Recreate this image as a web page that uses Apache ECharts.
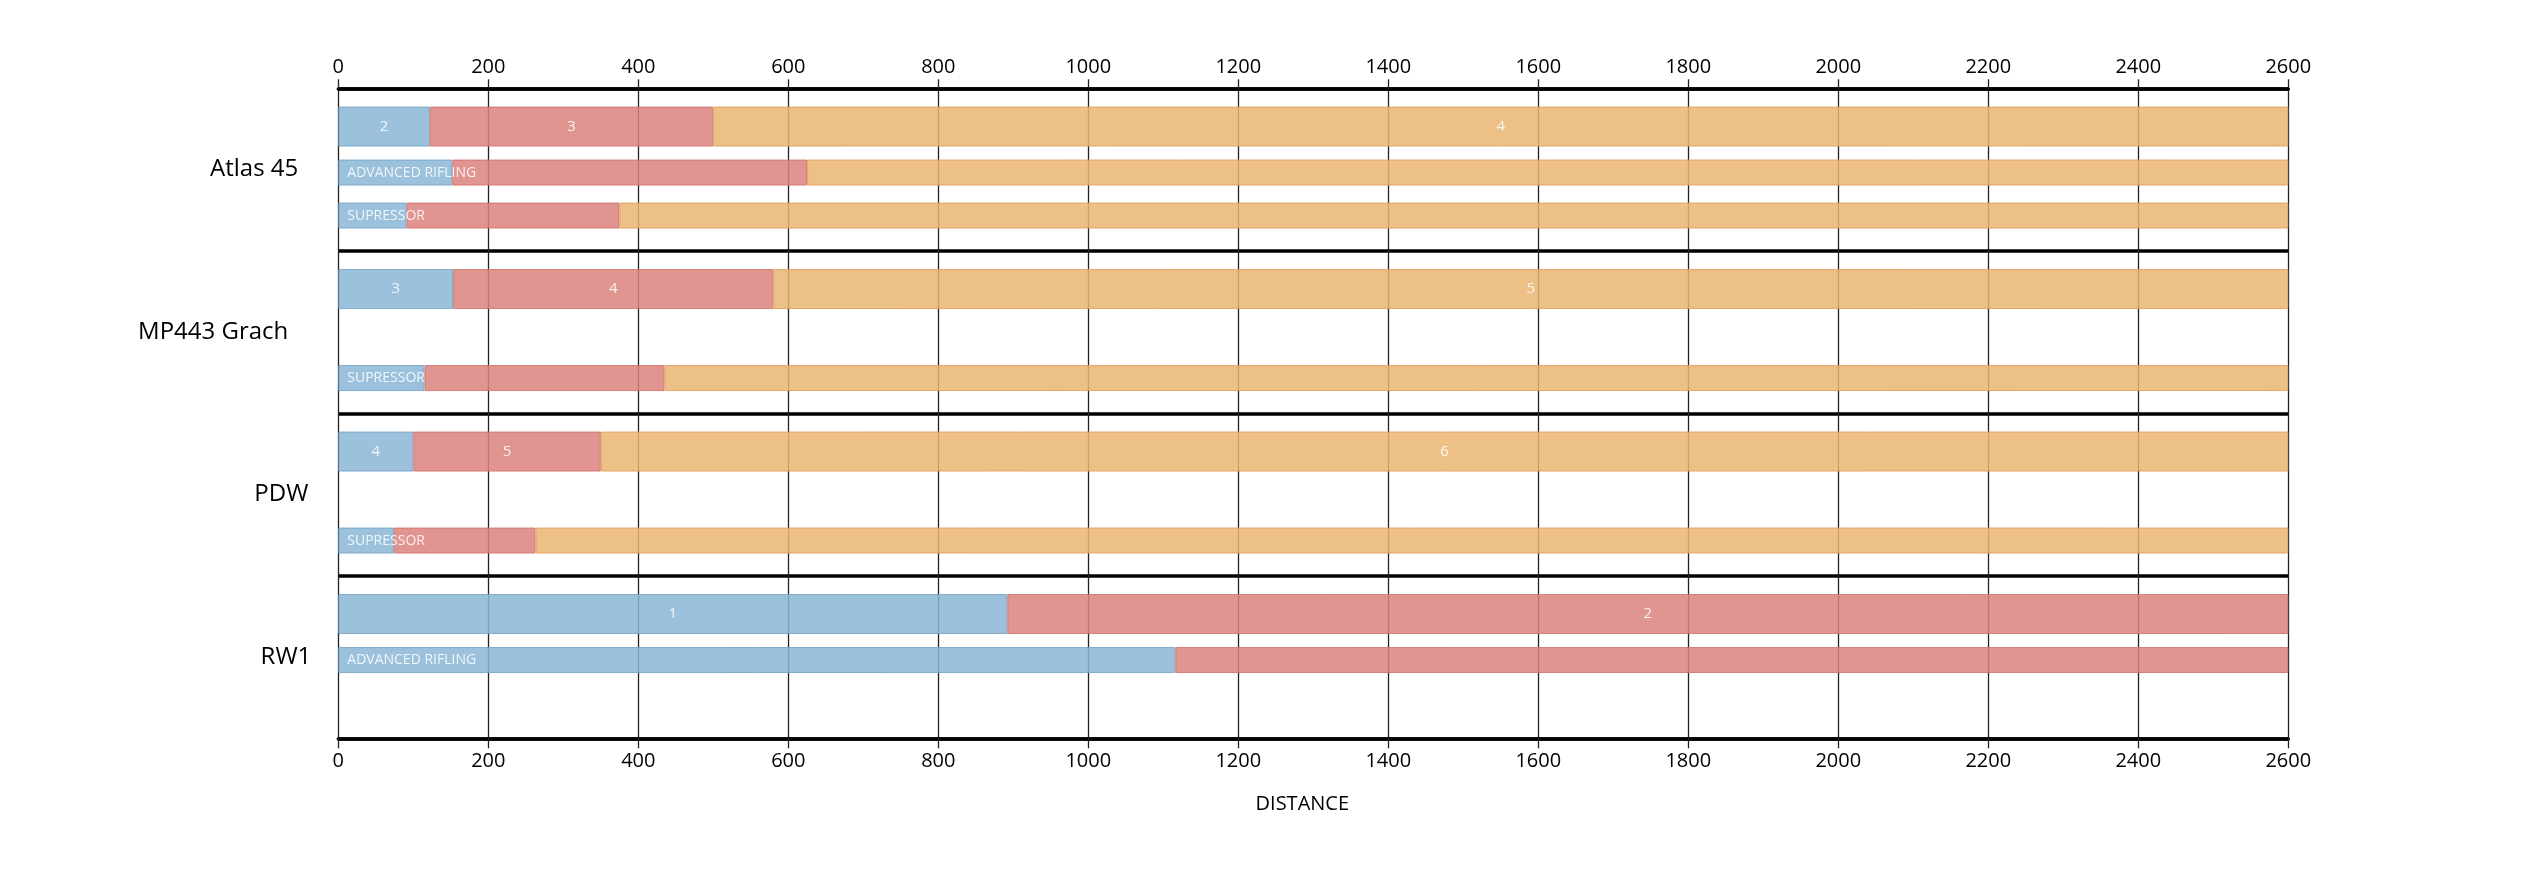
<!DOCTYPE html>
<html>
<head>
<meta charset="utf-8">
<script src="https://cdn.jsdelivr.net/npm/echarts@6/dist/echarts.min.js"></script>
<style>
html,body{margin:0;padding:0;background:#fff;}
#chart{width:2546px;height:873px;}
</style>
</head>
<body>
<div id="chart"></div>
<script>
// ---- data ----
const weapons = ['Atlas 45', 'MP443 Grach', 'PDW', 'RW1'];
const distanceMin = 0;
const distanceMax = 2600;
const distanceStep = 200;
const axisTitle = 'DISTANCE';

// Row 1: base weapon (segment lengths)
const baseBlue   = [122, 153, 100, 892];
const baseRed    = [378, 427, 250, 1708];
const baseOrange = [2100, 2020, 2250, null];
const baseBlueText   = ['2', '3', '4', '1'];
const baseRedText    = ['3', '4', '5', '2'];
const baseOrangeText = ['4', '5', '6', ''];

// Row 2: advanced rifling
const rifleBlue   = [152, null, null, 1116];
const rifleRed    = [473, null, null, 1484];
const rifleOrange = [1975, null, null, null];
const rifleText   = ['ADVANCED RIFLING', '', '', 'ADVANCED RIFLING'];

// Row 3: supressor
const supBlue   = [91, 115, 74, null];
const supRed    = [284, 320, 189, null];
const supOrange = [2225, 2165, 2337, null];
const supText   = ['SUPRESSOR', 'SUPRESSOR', 'SUPRESSOR', ''];

// ---- styles ----
const FONT = 'Open Sans';
const C = {
  blue:   {fill: 'rgb(137,182,214)', border: 'rgb(118,162,198)'},
  red:    {fill: 'rgb(219,130,126)', border: 'rgb(212,112,106)'},
  orange: {fill: 'rgb(233,181,114)', border: 'rgb(222,160,88)'}
};
const labelPad = [13, 23, 3, 0];
const GRID_LINE = '#222';

function bar(stack, data, col, width, label) {
  return {
    type: 'bar', stack: stack, data: data, barWidth: width, barGap: '0%',
    xAxisIndex: 0, yAxisIndex: 0,
    itemStyle: {color: col.fill, borderColor: col.border, borderWidth: 1, opacity: 0.85},
    label: label || {show: false},
    emphasis: {disabled: true},
    silent: true, animation: false
  };
}
function centerLabel(texts) {
  return {show: true, position: 'inside', color: '#fff', fontSize: 15, fontFamily: FONT,
          formatter: p => texts[p.dataIndex]};
}
function leftLabel(texts) {
  return {show: true, position: 'insideLeft', distance: 9, color: '#fff', fontSize: 14, fontFamily: FONT,
          formatter: p => texts[p.dataIndex]};
}
function spacer(name, width) {
  return {type: 'bar', stack: name, data: weapons.map(() => null), barWidth: width, barGap: '0%',
          itemStyle: {color: 'transparent'}, silent: true, animation: false};
}

const axisCommon = {
  type: 'value', min: distanceMin, max: distanceMax, interval: distanceStep,
  axisLine: {show: true, lineStyle: {color: '#000', width: 3.5}},
  axisTick: {show: true, length: 9, lineStyle: {color: GRID_LINE, width: 1.3}},
  axisLabel: {fontSize: 20, color: '#000', fontFamily: FONT, formatter: v => String(v)}
};

const option = {
  backgroundColor: '#fff',
  animation: false,
  grid: {left: 338.3, right: 257.7, top: 88.3, bottom: 134.7, containLabel: false},
  xAxis: [
    Object.assign({}, axisCommon, {
      position: 'top',
      axisLabel: Object.assign({}, axisCommon.axisLabel, {margin: 11}),
      splitLine: {show: true, lineStyle: {color: GRID_LINE, width: 1.3}}
    }),
    Object.assign({}, axisCommon, {
      position: 'bottom',
      axisTick: {show: true, length: 10, lineStyle: {color: GRID_LINE, width: 1.3}},
      axisLabel: Object.assign({}, axisCommon.axisLabel, {margin: 13}),
      splitLine: {show: false},
      name: axisTitle, nameLocation: 'middle', nameGap: 56,
      nameTextStyle: {fontSize: 20, color: '#000', fontFamily: FONT, padding: [0, 22, 0, 0]}
    })
  ],
  yAxis: {
    type: 'category', inverse: true,
    data: weapons.map((w, i) => ({value: w, textStyle: {padding: [0, labelPad[i], 0, 0]}})),
    axisLine: {show: false}, axisTick: {show: false},
    axisLabel: {fontSize: 24, color: '#000', fontFamily: FONT, margin: 27, interval: 0},
    splitLine: {show: true, interval: 0, lineStyle: {color: '#000', width: 3.5}}
  },
  series: [
    bar('r1', baseBlue, C.blue, 40, centerLabel(baseBlueText)),
    bar('r1', baseRed, C.red, 40, centerLabel(baseRedText)),
    bar('r1', baseOrange, C.orange, 40, centerLabel(baseOrangeText)),
    spacer('s1', 13),
    bar('r2', rifleBlue, C.blue, 26, leftLabel(rifleText)),
    bar('r2', rifleRed, C.red, 26),
    bar('r2', rifleOrange, C.orange, 26),
    spacer('s2', 17),
    bar('r3', supBlue, C.blue, 26, leftLabel(supText)),
    bar('r3', supRed, C.red, 26),
    bar('r3', supOrange, C.orange, 26),
    spacer('s3', 4)
  ]
};

const chart = echarts.init(document.getElementById('chart'), null, {renderer: 'canvas'});
chart.setOption(option);
</script>
</body>
</html>
